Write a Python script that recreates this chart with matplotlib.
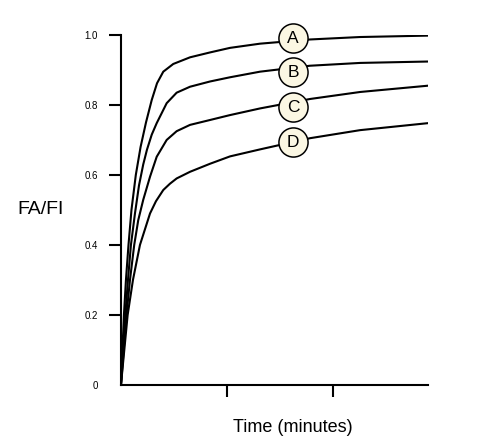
import numpy as np
import matplotlib
matplotlib.use("Agg")
import matplotlib.pyplot as plt

plt.rcParams['font.family'] = ['Liberation Sans', 'DejaVu Sans']

# curves (time in tick units, FA/FI)
a_x = [0, 0.028, 0.047, 0.071, 0.099, 0.140, 0.185, 0.236, 0.290, 0.340, 0.399, 0.493, 0.651, 0.840, 1.028, 1.311, 1.783, 2.255, 2.896]
a_y = [0, 0.20, 0.30, 0.40, 0.50, 0.60, 0.68, 0.75, 0.814, 0.862, 0.895, 0.917, 0.936, 0.950, 0.963, 0.975, 0.987, 0.994, 0.998]

b_x = [0, 0.041, 0.066, 0.094, 0.132, 0.170, 0.210, 0.245, 0.290, 0.337, 0.431, 0.525, 0.651, 0.840, 1.028, 1.311, 1.783, 2.255, 2.896]
b_y = [0, 0.20, 0.30, 0.40, 0.49, 0.57, 0.63, 0.672, 0.715, 0.748, 0.805, 0.835, 0.852, 0.867, 0.879, 0.895, 0.912, 0.920, 0.924]

c_x = [0, 0.052, 0.085, 0.125, 0.163, 0.210, 0.274, 0.337, 0.431, 0.525, 0.651, 0.840, 1.028, 1.311, 1.783, 2.255, 2.896]
c_y = [0, 0.20, 0.30, 0.40, 0.471, 0.529, 0.595, 0.652, 0.70, 0.725, 0.743, 0.757, 0.771, 0.790, 0.817, 0.837, 0.855]

d_x = [0, 0.063, 0.113, 0.179, 0.274, 0.330, 0.399, 0.462, 0.525, 0.651, 0.840, 1.028, 1.311, 1.783, 2.255, 2.896]
d_y = [0, 0.20, 0.30, 0.40, 0.49, 0.525, 0.557, 0.575, 0.59, 0.609, 0.632, 0.653, 0.673, 0.705, 0.728, 0.748]

labels = ['A', 'B', 'C', 'D']
label_x = 1.623
label_y = [0.991, 0.894, 0.794, 0.694]

fig = plt.figure(figsize=(4.8, 4.42), dpi=100)
ax = fig.add_axes([0.252, 0.129, 0.640, 0.792])

for xs, ys in [(a_x, a_y), (b_x, b_y), (c_x, c_y), (d_x, d_y)]:
    ax.plot(xs, ys, color='black', lw=1.5, solid_joinstyle='round', zorder=2)

ax.scatter([label_x] * 4, label_y, s=440, facecolor='#FBF7E3', edgecolor='black',
           linewidth=1.1, zorder=3, clip_on=False)
for lab, ly in zip(labels, label_y):
    ax.text(label_x, ly, lab, ha='center', va='center', fontsize=12.5, zorder=4)

ax.set_xlim(0, 2.896)
ax.set_ylim(0, 1.0)
for s in ['top', 'right']:
    ax.spines[s].set_visible(False)
for s in ['left', 'bottom']:
    ax.spines[s].set_linewidth(1.5)

ax.set_yticks([0, 0.2, 0.4, 0.6, 0.8, 1.0])
ax.set_yticklabels(['0', '0.2', '0.4', '0.6', '0.8', '1.0'])
ax.set_xticks([1, 2])
ax.set_xticklabels([])
ax.tick_params(axis='both', direction='out', length=8.5, width=1.5, labelsize=7)
ax.tick_params(axis='y', pad=8)
ax.yaxis.get_major_ticks()[0].tick1line.set_visible(False)

fig.text(17 / 480, 1 - 210 / 442, 'FA/FI', ha='left', va='center', fontsize=14)
fig.text(293 / 480, 1 - 428 / 442, 'Time (minutes)', ha='center', va='center', fontsize=13)

fig.savefig('out.png', dpi=100)
